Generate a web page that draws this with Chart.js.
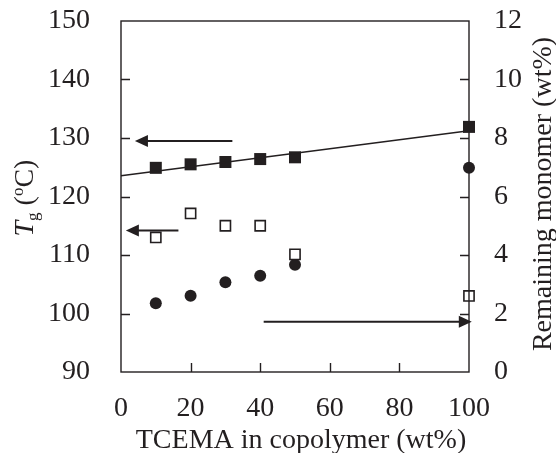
<!DOCTYPE html>
<html>
<head>
<meta charset="utf-8">
<script src="https://cdn.jsdelivr.net/npm/chart.js@4.4.1/dist/chart.umd.min.js"></script>
<style>
  html, body { margin: 0; padding: 0; background: #fff; }
  #wrap { width: 556px; height: 453px; position: relative; }
</style>
</head>
<body>
<div id="wrap"><canvas id="chart"></canvas></div>
<script>
// TCEMA content (wt%) of each copolymer
const tcema = [10, 20, 30, 40, 50, 100];
// Tg, filled squares (left axis)
const tgFilled = [124.9, 125.5, 125.9, 126.4, 126.7, 131.9];
// Tg, open squares (left axis)
const tgOpen = [113.0, 117.1, 115.0, 115.0, 110.1, 103.0];
// remaining monomer, filled circles (right axis)
const monomer = [2.35, 2.61, 3.07, 3.29, 3.67, 6.98];
// linear fit through the filled squares
const fitX = [0, 100];
const fitY = [123.55, 131.25];

// arrows pointing at the axis each series belongs to
const arrowFromX = [32, 16.5, 41];
const arrowToX = [4, 1.4, 100.8];
const arrowY = [129.5, 114.2, 1.72];
const arrowAxis = ['y', 'y', 'y2'];

const xTicks = [0, 20, 40, 60, 80, 100];
const yTicks = [90, 100, 110, 120, 130, 140, 150];
const y2Ticks = [0, 2, 4, 6, 8, 10, 12];

const INK = '#231f20';
const FONT = '"Liberation Serif", "Times New Roman", serif';
const FS = 28;

const pts = (xs, ys) => xs.map((x, i) => ({ x, y: ys[i] }));

const framePlugin = {
  id: 'frame',
  afterDraw(chart) {
    const { ctx, chartArea: a, scales } = chart;
    ctx.save();
    ctx.strokeStyle = INK;
    ctx.fillStyle = INK;

    // plot frame
    ctx.lineWidth = 1.4;
    ctx.strokeRect(a.left, a.top, a.right - a.left, a.bottom - a.top);

    // inward tick marks
    const tl = 9;
    ctx.beginPath();
    yTicks.slice(1, -1).forEach(v => {
      const p = Math.round(scales.y.getPixelForValue(v)) + 0.5;
      ctx.moveTo(a.left, p); ctx.lineTo(a.left + tl, p);
    });
    y2Ticks.slice(1, -1).forEach(v => {
      const p = Math.round(scales.y2.getPixelForValue(v)) + 0.5;
      ctx.moveTo(a.right, p); ctx.lineTo(a.right - tl, p);
    });
    xTicks.slice(1, -1).forEach(v => {
      const p = Math.round(scales.x.getPixelForValue(v)) + 0.5;
      ctx.moveTo(p, a.bottom); ctx.lineTo(p, a.bottom - tl);
    });
    ctx.stroke();

    // arrows
    ctx.lineWidth = 2;
    arrowFromX.forEach((fx, i) => {
      const ys = scales[arrowAxis[i]];
      const y = ys.getPixelForValue(arrowY[i]);
      const x0 = scales.x.getPixelForValue(fx);
      const x1 = scales.x.getPixelForValue(arrowToX[i]);
      const dir = x1 < x0 ? 1 : -1;
      const head = 13;
      ctx.beginPath();
      ctx.moveTo(x0, y);
      ctx.lineTo(x1 + dir * head * 0.8, y);
      ctx.stroke();
      ctx.beginPath();
      ctx.moveTo(x1, y);
      ctx.lineTo(x1 + dir * head, y - 6);
      ctx.lineTo(x1 + dir * head, y + 6);
      ctx.closePath();
      ctx.fill();
    });

    // axis titles
    ctx.textBaseline = 'alphabetic';

    // x title
    ctx.font = `${FS}px ${FONT}`;
    ctx.textAlign = 'center';
    ctx.fillText('TCEMA in copolymer (wt%)', 301, 448);

    // right title, reading upward
    ctx.save();
    ctx.translate(551, 194);
    ctx.rotate(-Math.PI / 2);
    ctx.fillText('Remaining monomer (wt%)', 0, 0);
    ctx.restore();

    // left title: italic T, subscript g, (ºC)
    ctx.save();
    ctx.translate(33, 198);
    ctx.rotate(-Math.PI / 2);
    ctx.textAlign = 'left';
    const parts = [
      { t: 'T', f: `italic ${FS}px ${FONT}`, dy: 0 },
      { t: 'g', f: `${Math.round(FS * 0.62)}px ${FONT}`, dy: 5 },
      { t: ' (', f: `${FS}px ${FONT}`, dy: 0 },
      { t: 'o', f: `${Math.round(FS * 0.6)}px ${FONT}`, dy: -10 },
      { t: 'C)', f: `${FS}px ${FONT}`, dy: 0 }
    ];
    let w = 0;
    parts.forEach(p => { ctx.font = p.f; p.w = ctx.measureText(p.t).width; w += p.w; });
    let x = -w / 2;
    parts.forEach(p => {
      ctx.font = p.f;
      ctx.fillText(p.t, x, p.dy);
      x += p.w;
    });
    ctx.restore();

    ctx.restore();
  }
};

const tickFont = { family: FONT, size: FS };
const noPad = s => { s.paddingTop = 0; s.paddingBottom = 0; s.paddingLeft = 0; s.paddingRight = 0; };

new Chart(document.getElementById('chart'), {
  type: 'scatter',
  data: {
    datasets: [
      {
        label: 'fit',
        data: pts(fitX, fitY),
        showLine: true,
        borderColor: INK,
        borderWidth: 1.4,
        pointRadius: 0,
        yAxisID: 'y',
        clip: false
      },
      {
        label: 'Tg filled',
        data: pts(tcema, tgFilled),
        pointStyle: 'rect',
        pointRadius: 8.5,
        backgroundColor: INK,
        borderColor: INK,
        borderWidth: 0,
        yAxisID: 'y',
        clip: false
      },
      {
        label: 'Tg open',
        data: pts(tcema, tgOpen),
        pointStyle: 'rect',
        pointRadius: 7.2,
        backgroundColor: '#fff',
        borderColor: INK,
        borderWidth: 1.6,
        yAxisID: 'y',
        clip: false
      },
      {
        label: 'Remaining monomer',
        data: pts(tcema, monomer),
        pointStyle: 'circle',
        pointRadius: 6,
        backgroundColor: INK,
        borderColor: INK,
        borderWidth: 0,
        yAxisID: 'y2',
        clip: false
      }
    ]
  },
  options: {
    responsive: true,
    maintainAspectRatio: false,
    animation: false,
    layout: { padding: { top: 21, left: 0, right: 0, bottom: 0 } },
    plugins: { legend: { display: false }, tooltip: { enabled: false } },
    scales: {
      x: {
        type: 'linear',
        min: 0, max: 100,
        afterBuildTicks: s => { s.ticks = xTicks.map(v => ({ value: v })); },
        afterFit: s => { s.height = 81; noPad(s); },
        grid: { display: false, drawTicks: false },
        border: { display: false },
        ticks: { color: INK, font: tickFont, padding: 20, maxRotation: 0 }
      },
      y: {
        type: 'linear',
        position: 'left',
        min: 90, max: 150,
        afterBuildTicks: s => { s.ticks = yTicks.map(v => ({ value: v })); },
        afterFit: s => { s.width = 121; noPad(s); },
        grid: { display: false, drawTicks: false },
        border: { display: false },
        ticks: { color: INK, font: tickFont, padding: 31 }
      },
      y2: {
        type: 'linear',
        position: 'right',
        min: 0, max: 12,
        afterBuildTicks: s => { s.ticks = y2Ticks.map(v => ({ value: v })); },
        afterFit: s => { s.width = 87; noPad(s); },
        grid: { display: false, drawTicks: false },
        border: { display: false },
        ticks: { color: INK, font: tickFont, padding: 25 }
      }
    }
  },
  plugins: [framePlugin]
});
</script>
</body>
</html>
